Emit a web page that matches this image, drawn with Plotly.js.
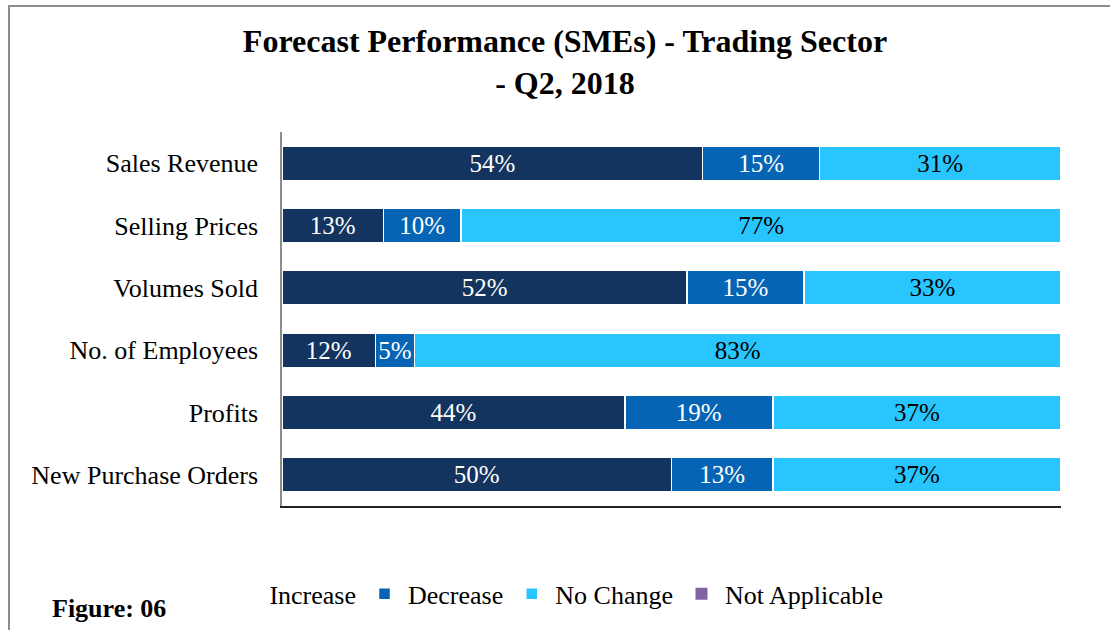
<!DOCTYPE html>
<html>
<head>
<meta charset="utf-8">
<script src="https://cdn.plot.ly/plotly-3.0.1.min.js"></script>
<style>
  body { margin: 0; background: #fff; }
  #chart { width: 1110px; height: 630px; }
  #frame {
    position: absolute; left: 8px; top: 5px; width: 1200px; height: 700px;
    border-left: 2px solid #8c8c8c; border-top: 2px solid #8c8c8c;
    pointer-events: none;
  }
</style>
</head>
<body>
<div id="chart"></div>
<div id="frame"></div>
<script>
const categories = [
  "Sales Revenue",
  "Selling Prices",
  "Volumes Sold",
  "No. of Employees",
  "Profits",
  "New Purchase Orders",
];
const increase = [54, 13, 52, 12, 44, 50];
const decrease = [15, 10, 15, 5, 19, 13];
const noChange = [31, 77, 33, 83, 37, 37];
const notApplicable = [0, 0, 0, 0, 0, 0];

const serif = '"Liberation Serif", "Times New Roman", serif';
const navy = "#13345e";
const blue = "#0565b4";
const sky = "#29c5ff";
const purple = "#8064a2";

function segment(name, values, color, textColor) {
  return {
    type: "bar",
    orientation: "h",
    name: name,
    y: categories,
    x: values,
    marker: { color: color, line: { color: "#ffffff", width: 1.5 } },
    texttemplate: "%{x}%",
    textposition: "inside",
    insidetextanchor: "middle",
    textangle: 0,
    constraintext: "none",
    textfont: { family: serif, size: 25, color: textColor },
    hoverinfo: "name+x",
  };
}

const traceInc = segment("Increase", increase, navy, "#ffffff");
traceInc.showlegend = false;
const traceDec = segment("Decrease", decrease, blue, "#ffffff");
traceDec.legendrank = 2;
const traceNo = segment("No Change", noChange, sky, "#000000");
traceNo.legendrank = 3;

// legend-only entries (Increase shows no swatch in the original)
const incLegend = {
  type: "bar", orientation: "h", name: "Increase",
  y: categories, x: notApplicable,
  marker: { color: "rgba(0,0,0,0)", line: { width: 0 } },
  hoverinfo: "skip", legendrank: 1,
};
const traceNA = {
  type: "bar", orientation: "h", name: "Not Applicable",
  y: categories, x: notApplicable,
  marker: { color: purple, line: { width: 0 } },
  hoverinfo: "skip", legendrank: 4,
};

const layout = {
  width: 1110,
  height: 630,
  margin: { l: 282, r: 49, t: 132, b: 124 },
  paper_bgcolor: "#ffffff",
  plot_bgcolor: "#ffffff",
  barmode: "stack",
  bargap: 0.45,
  font: { family: serif, size: 26, color: "#000000" },
  title: {
    text: "<b>Forecast Performance (SMEs) - Trading Sector<br>- Q2, 2018</b>",
    font: { family: serif, size: 32, color: "#000000" },
    x: 0.509,
    xanchor: "center",
    y: 0.917,
    yanchor: "middle",
  },
  xaxis: {
    range: [0, 100],
    showticklabels: false,
    ticks: "",
    showgrid: false,
    zeroline: false,
    showline: true,
    linecolor: "#222222",
    linewidth: 2,
    fixedrange: true,
  },
  yaxis: {
    autorange: "reversed",
    showgrid: false,
    zeroline: false,
    showline: true,
    linecolor: "#8c8c8c",
    linewidth: 1.5,
    ticks: "",
    ticklabelstandoff: 17,
    tickfont: { family: serif, size: 26, color: "#000000" },
    fixedrange: true,
  },
  legend: {
    orientation: "h",
    x: -0.0765,
    xanchor: "left",
    y: -0.235,
    yanchor: "middle",
    font: { family: serif, size: 26, color: "#000000" },
    itemwidth: 37,
    traceorder: "normal",
  },
  annotations: [
    {
      text: "<b>Figure: 06</b>",
      xref: "paper",
      yref: "paper",
      x: -0.298,
      xanchor: "left",
      y: -0.275,
      yanchor: "middle",
      showarrow: false,
      font: { family: serif, size: 26, color: "#000000" },
    },
  ],
};

Plotly.newPlot("chart", [incLegend, traceInc, traceDec, traceNo, traceNA], layout, {
  displayModeBar: false,
  responsive: false,
});
</script>
</body>
</html>
